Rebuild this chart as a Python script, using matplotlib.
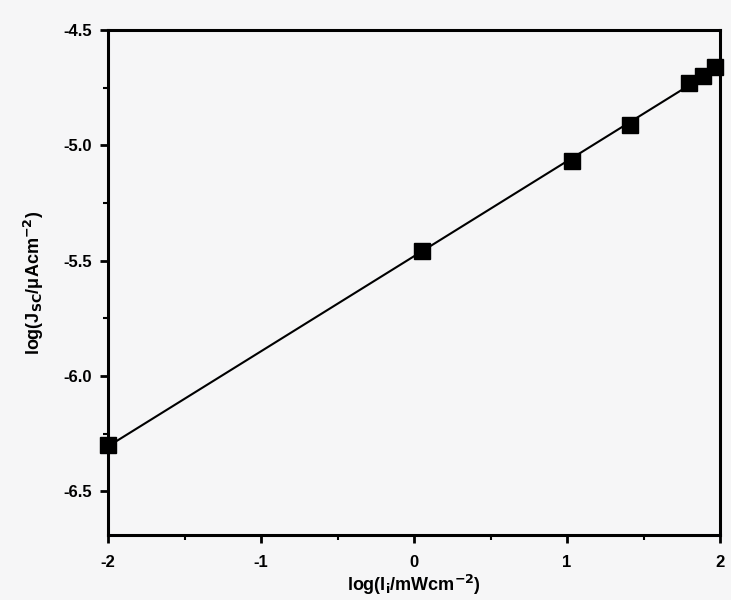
import numpy as np
import matplotlib
matplotlib.use("Agg")
import matplotlib.pyplot as plt
from matplotlib.ticker import MultipleLocator

# log of incident light intensity and log of short-circuit current density
log_intensity = [-2.0, 0.05, 1.03, 1.41, 1.80, 1.89, 1.97]
log_jsc = [-6.30, -5.46, -5.07, -4.91, -4.73, -4.70, -4.66]

x_ticks = [-2, -1, 0, 1, 2]
y_ticks = [-6.5, -6.0, -5.5, -5.0, -4.5]

plt.rcParams['font.family'] = ['Liberation Sans', 'DejaVu Sans']
plt.rcParams['font.weight'] = 'bold'

bg = '#f6f6f7'
fig = plt.figure(figsize=(7.31, 6.0), dpi=100, facecolor=bg)
ax = fig.add_axes([0.148, 0.108, 0.837, 0.842], facecolor=bg)

x = np.array(log_intensity)
y = np.array(log_jsc)
slope, intercept = np.polyfit(x, y, 1)
xf = np.array([x.min(), x.max()])
ax.plot(xf, slope * xf + intercept, color='black', lw=1.5, zorder=2)
ax.plot(x, y, 's', color='black', ms=11, zorder=3, clip_on=False)

ax.set_xlim(-2, 2)
ax.set_ylim(-6.69, -4.5)
ax.set_xticks(x_ticks)
ax.set_yticks(y_ticks)
ax.set_xticklabels([str(t) for t in x_ticks])
ax.set_yticklabels([f'{t:.1f}' for t in y_ticks])
ax.xaxis.set_minor_locator(MultipleLocator(0.5))
ax.yaxis.set_minor_locator(MultipleLocator(0.25))

for s in ax.spines.values():
    s.set_linewidth(2.2)
ax.tick_params(which='major', direction='out', length=6, width=2, labelsize=12, pad=6)
ax.tick_params(which='minor', direction='out', length=3.5, width=1.5)
ax.tick_params(axis='x', which='major', pad=8)
for lab in ax.get_xticklabels() + ax.get_yticklabels():
    lab.set_fontweight('bold')

ax.set_xlabel('log(I$_\\mathbf{i}$/mWcm$^{\\mathbf{-2}}$)', fontsize=13, fontweight='bold', labelpad=2)
ax.set_ylabel('log(J$_\\mathbf{SC}$/\u03bcAcm$^{\\mathbf{-2}}$)', fontsize=13, fontweight='bold', labelpad=12)

fig.savefig('out.png', dpi=100, facecolor=bg)
